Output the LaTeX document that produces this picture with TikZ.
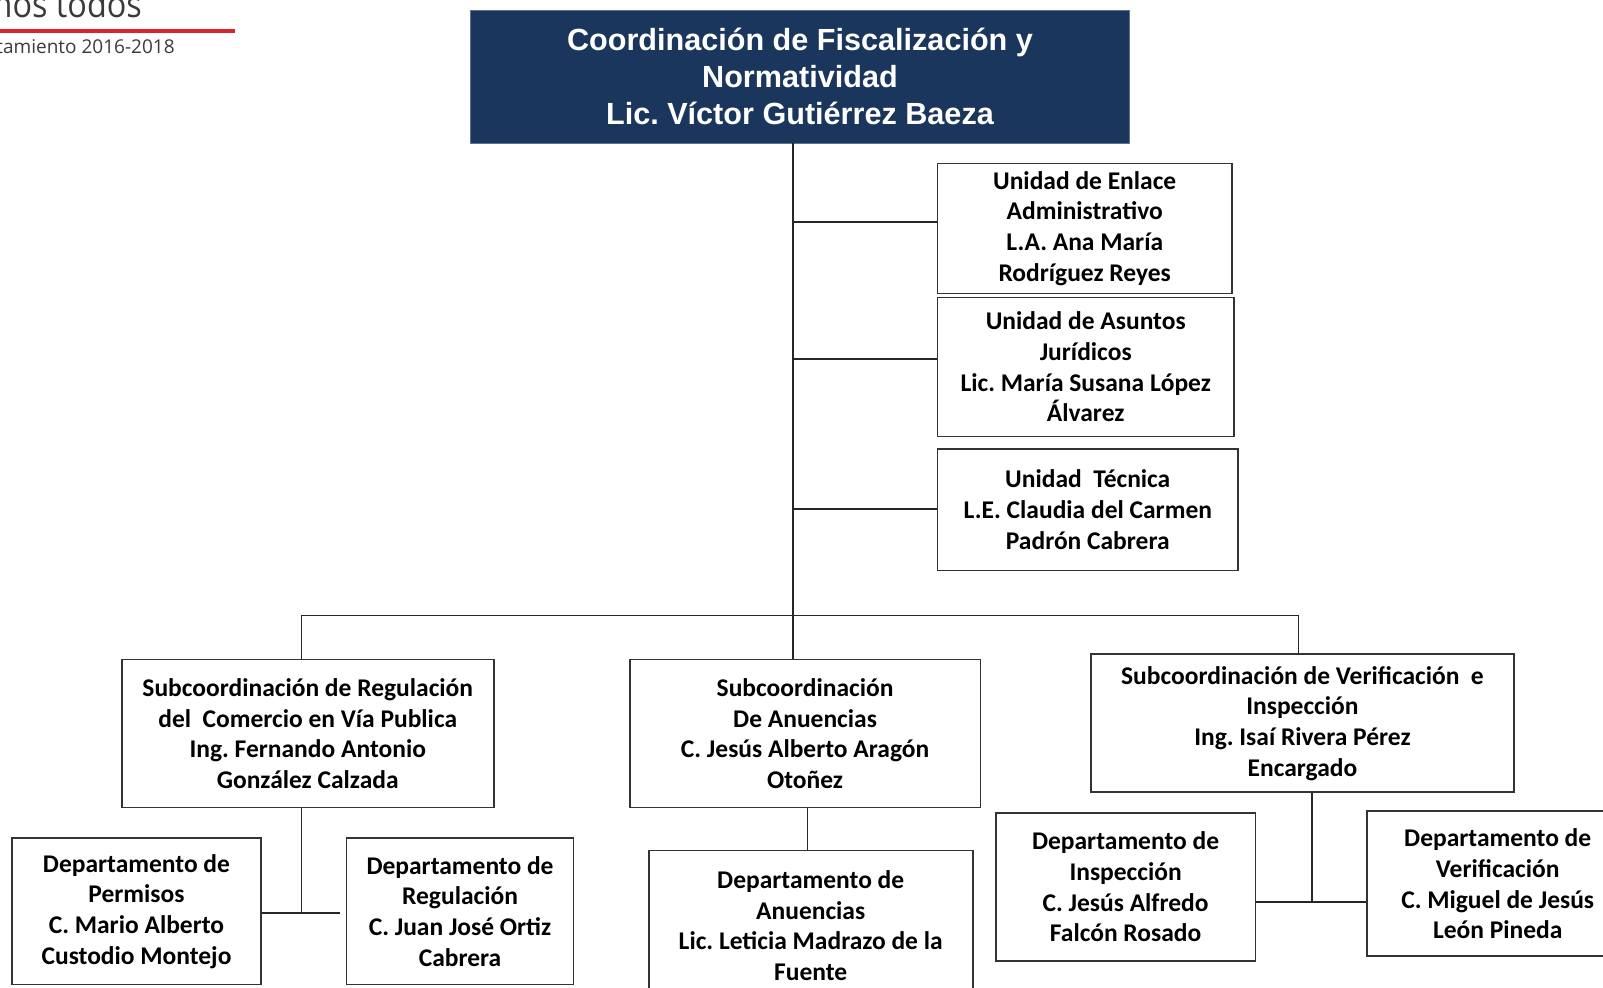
\documentclass[tikz,border=0pt]{standalone}
\usepackage{fontspec}
\setmainfont{Carlito}
\newfontfamily\hdfont{Liberation Sans}
\newfontfamily\logofont{Open Sans}
\usetikzlibrary{fit}
\definecolor{navy}{HTML}{1B365D}
\definecolor{logored}{HTML}{D92430}
\definecolor{boxline}{HTML}{333333}
\definecolor{logogray}{HTML}{3A3A3A}
\tikzset{
  frame/.style={draw=boxline, line width=1.7pt, inner sep=0pt},
  txt/.style={inner sep=0pt, align=center, font=\bfseries\fontsize{25.5}{30.7}\selectfont, text=black},
  conn/.style={draw=black!85, line width=1.7pt},
}
\begin{document}
\frenchspacing
\begin{tikzpicture}[x=1.0223pt,y=-1.0223pt]
\useasboundingbox (0,0) rectangle (1568,965.5);
\clip (0,0) rectangle (1568,965.5);
% logo fragments
\node[inner sep=0pt, anchor=base east, font=\logofont\fontsize{36}{38}\selectfont, text=logogray] (logo) at (139,17) {\scalebox{0.9}[1]{nos todos}};
\draw[logored, line width=4pt] (0,30) -- (230,30);
\node[inner sep=0pt, anchor=base east, font=\logofont\fontsize{19}{21}\selectfont, text=logogray] (ayto) at (171,52.5) {Ayuntamiento 2016-2018};
% header
\node[fill=navy, draw=navy!70, line width=0.8pt, inner sep=0pt, fit={(460,10) (1105,140)}] (coord) {};
\node[inner sep=0pt, align=center, text=white, font=\hdfont\bfseries\fontsize{30.6}{36.8}\selectfont] (coordtxt) at (coord.center)
  {Coordinación de Fiscalización y\\Normatividad\\Lic. Víctor Gutiérrez Baeza};
% units
\node[frame, fit={(917,160) (1205,287)}] (enlace) {};
\node[txt] (enlacetxt) at (enlace.center) {Unidad de Enlace\\Administrativo\\L.A. Ana María\\Rodríguez Reyes};
\node[frame, fit={(917,291) (1207,427)}] (asuntos) {};
\node[txt] (asuntostxt) at (asuntos.center) {Unidad de Asuntos\\Jurídicos\\Lic. María Susana López\\Álvarez};
\node[frame, fit={(917,439) (1211,558)}] (tecnica) {};
\node[txt] (tecnicatxt) at (tecnica.center) {Unidad~~Técnica\\L.E. Claudia del Carmen\\Padrón Cabrera};
% subcoordinations
\node[frame, fit={(119,645) (483,790)}] (regsub) {};
\node[txt] (regsubtxt) at (regsub.center) {Subcoordinación de Regulación\\del~~Comercio en Vía Publica\\Ing. Fernando Antonio\\González Calzada};
\node[frame, fit={(616,645) (959,790)}] (anusub) {};
\node[txt] (anusubtxt) at (anusub.center) {Subcoordinación\\De Anuencias\\C. Jesús Alberto Aragón\\Otoñez};
\node[frame, fit={(1067,640) (1481,775)}] (versub) {};
\node[txt] (versubtxt) at (versub.center) {Subcoordinación de Verificación~~e\\Inspección\\Ing. Isaí Rivera Pérez\\Encargado};
% departments
\node[frame, fit={(12,820) (255,963)}] (permisos) {};
\node[txt] (permisostxt) at (permisos.center) {Departamento de\\Permisos\\C. Mario Alberto\\Custodio Montejo};
\node[frame, fit={(339,820) (561,963)}] (regdep) {};
\node[txt] (regdeptxt) at (regdep.center) {Departamento de\\Regulación\\C. Juan José Ortiz\\Cabrera};
\node[frame, fit={(635,832) (952,1010)}] (anudep) {};
\node[txt] (anutxt) at (793,905.5) {Departamento de\\Anuencias\\Lic. Leticia Madrazo de la\\Fuente};
\node[frame, fit={(974,795) (1228,940)}] (insp) {};
\node[txt] (insptxt) at (insp.center) {Departamento de\\Inspección\\C. Jesús Alfredo\\Falcón Rosado};
\node[frame, fit={(1337,793) (1610,935)}] (verdep) {};
\node[txt] (vertxt) at (1465,864.5) {Departamento de\\Verificación\\C. Miguel de Jesús\\León Pineda};
% connectors
\coordinate (trunk) at (776,140);
\coordinate (busL) at (295,602);
\coordinate (busM) at (776,602);
\coordinate (busR) at (1270,602);
\draw[conn] (trunk) -- (busM);
\coordinate (b1) at (776,217);
\coordinate (b2) at (776,351);
\coordinate (b3) at (776,498);
\draw[conn] (b1) -- (b1 -| enlace.west);
\draw[conn] (b2) -- (b2 -| asuntos.west);
\draw[conn] (b3) -- (b3 -| tecnica.west);
\draw[conn] (busL) -- (busR);
\draw[conn] (busL) -- (busL |- regsub.north);
\draw[conn] (busM) -- (busM |- anusub.north);
\draw[conn] (busR) -- (busR |- versub.north);
% left departments
\coordinate (jL) at (295,893);
\coordinate (jLe) at (333,893);
\draw[conn] (jL |- regsub.south) -- (jL);
\draw[conn] (jL -| permisos.east) -- (jLe);
% center
\coordinate (jM) at (790,790);
\draw[conn] (jM) -- (jM |- anudep.north);
% right departments
\coordinate (jR) at (1283,882);
\draw[conn] (jR |- versub.south) -- (jR);
\draw[conn] (jR -| insp.east) -- (jR -| verdep.west);
\end{tikzpicture}
\end{document}
